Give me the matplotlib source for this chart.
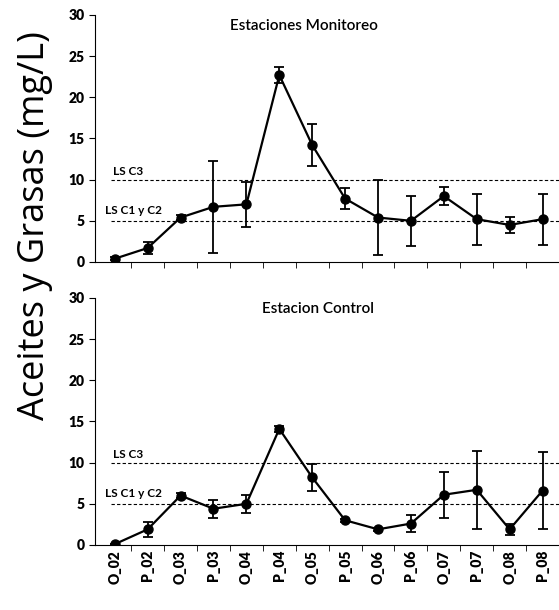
import numpy as np
import matplotlib.pyplot as plt

plt.rcParams['font.family'] = ['Lato', 'DejaVu Sans']

campanas = ['O_02', 'P_02', 'O_03', 'P_03', 'O_04', 'P_04', 'O_05',
            'P_05', 'O_06', 'P_06', 'O_07', 'P_07', 'O_08', 'P_08']

monitoreo = [0.4, 1.7, 5.4, 6.7, 7.0, 22.7, 14.2, 7.7, 5.4, 5.0, 8.0, 5.2, 4.5, 5.2]
monitoreo_err = [0.2, 0.7, 0.3, 5.6, 2.7, 1.0, 2.6, 1.3, 4.6, 3.0, 1.1, 3.1, 1.0, 3.1]

control = [0.1, 1.9, 6.0, 4.4, 5.0, 14.1, 8.2, 3.0, 1.9, 2.6, 6.1, 6.7, 1.9, 6.6]
control_err = [0.0, 0.9, 0.3, 1.1, 1.1, 0.4, 1.6, 0.2, 0.2, 1.0, 2.8, 4.7, 0.7, 4.7]

limite_c3 = 10
limite_c1c2 = 5

fig = plt.figure(figsize=(5.59, 6.10), dpi=100)
ax1 = fig.add_axes([0.17, 0.5705, 0.83, 0.405])
ax2 = fig.add_axes([0.17, 0.1066, 0.83, 0.405])

x = np.arange(len(campanas))


def panel(ax, y, err, titulo, tx):
    ax.errorbar(x, y, yerr=err, color='black', marker='o', markersize=6.5,
                linewidth=1.6, elinewidth=1.3, capsize=3.5, capthick=1.3)
    ax.axhline(limite_c3, xmin=0.035, color='black', linestyle=(0, (3, 2)), linewidth=0.8)
    ax.axhline(limite_c1c2, xmin=0.035, color='black', linestyle=(0, (3, 2)), linewidth=0.8)
    ax.text(-0.05, limite_c3 + 0.6, 'LS C3', fontsize=8.5, fontweight='bold')
    ax.text(-0.3, limite_c1c2 + 0.8, 'LS C1 y C2', fontsize=8.5, fontweight='bold')
    ax.set_ylim(0, 30)
    ax.set_xlim(-0.6, 13.33)
    ax.set_yticks(range(0, 31, 5))
    ax.set_xticks(x + 0.5, minor=True)
    ax.set_xticks(x)
    ax.tick_params(axis='x', which='major', length=0)
    ax.tick_params(axis='x', which='minor', length=4, direction='out')
    ax.tick_params(axis='y', length=4, direction='out')
    for s in ['top', 'right']:
        ax.spines[s].set_visible(False)
    ax.spines['left'].set_linewidth(0.8)
    ax.spines['bottom'].set_linewidth(0.8)
    for lab in ax.get_yticklabels():
        lab.set_fontweight('heavy')
        lab.set_fontsize(10)
    ax.text(tx, 0.94, titulo, transform=ax.transAxes, ha='center', fontsize=11,
            fontweight='semibold')


panel(ax1, monitoreo, monitoreo_err, 'Estaciones Monitoreo', 0.45)
ax1.set_xticklabels([])
panel(ax2, control, control_err, 'Estacion Control', 0.48)
ax2.set_xticklabels(campanas, rotation=90, fontsize=10, fontweight='heavy')

fig.text(0.063, 1 - 226 / 610, 'Aceites y Grasas (mg/L)', rotation=90,
         ha='center', va='center', fontsize=26, family=['Open Sans', 'DejaVu Sans'])

fig.savefig('out.png', dpi=100)
